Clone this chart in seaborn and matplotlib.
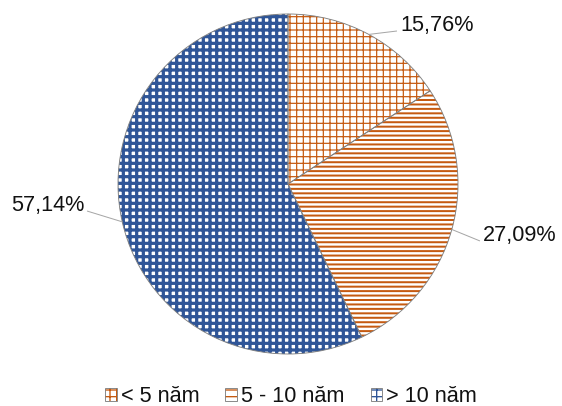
import numpy as np
import matplotlib
matplotlib.use("Agg")
import matplotlib.pyplot as plt
from matplotlib.patches import Patch
from matplotlib.legend_handler import HandlerTuple
import seaborn as sns

# Share of staff by years of service
categories = ["< 5 năm", "5 - 10 năm", "> 10 năm"]
shares = [15.76, 27.09, 57.14]
value_labels = ["15,76%", "27,09%", "57,14%"]

hatch_colors = ["#C55A11", "#C55A11", "#2F5597"]
hatches = ["++", "---", "++"]
hatch_widths = [1.1, 1.8, 2.9]

sns.set_theme(style="white")
plt.rcParams["font.family"] = ["Liberation Sans", "DejaVu Sans"]

DPI = 80
W, H = 562, 406
R_PX = 170.0
CX, CY = 288.0, 184.0

fig = plt.figure(figsize=(W / DPI, H / DPI), dpi=DPI)
ax = fig.add_axes([0, 0, 1, 1])


def set_view():
    ax.set_xlim(-CX / R_PX, (W - CX) / R_PX)
    ax.set_ylim(-(H - CY) / R_PX, CY / R_PX)
    ax.set_aspect("auto")
    ax.axis("off")


# hatched fills, one pie per hatch weight so each keeps its own line width
for i in range(len(shares)):
    plt.rcParams["hatch.linewidth"] = hatch_widths[i]
    wedges, _ = ax.pie(shares, startangle=90, counterclock=False,
                       radius=1.0, center=(0, 0), frame=True,
                       colors=["white"] * len(shares),
                       wedgeprops=dict(linewidth=0))
    for j, w in enumerate(wedges):
        if j == i:
            w.set_hatch(hatches[i])
            w.set_edgecolor(hatch_colors[i])
            w.set_linewidth(0)
        else:
            w.set_visible(False)

# grey outlines on top
outline, _ = ax.pie(shares, startangle=90, counterclock=False,
                    radius=1.0, center=(0, 0), frame=True,
                    wedgeprops=dict(fill=False, edgecolor="#7F7F7F", linewidth=0.8))
set_view()

# value labels with leader lines
label_anchor = [(0.641, 0.900), (1.129, -0.335), (-1.182, -0.159)]
label_side = ["left", "left", "right"]
gap = 3 / R_PX
for w, txt, (ex, ey), side in zip(outline, value_labels, label_anchor, label_side):
    mid = np.deg2rad((w.theta1 + w.theta2) / 2)
    sx, sy = np.cos(mid), np.sin(mid)
    ax.plot([sx, ex], [sy, ey], color="#A6A6A6", lw=0.9, solid_capstyle="butt")
    tx = ex + gap if side == "left" else ex - gap
    ax.text(tx, ey, txt, ha=side, va="baseline", fontsize=19.5, color="#111111")
set_view()

# legend: hatched square with a thin grey frame
handles = []
for i, name in enumerate(categories):
    plt.rcParams["hatch.linewidth"] = min(hatch_widths[i], 1.2)
    fill = Patch(facecolor="white", edgecolor=hatch_colors[i],
                 hatch=hatches[i][:2], linewidth=0)
    frame = Patch(facecolor="none", edgecolor="#7F7F7F", linewidth=0.8)
    handles.append((fill, frame))
leg = fig.legend(handles=handles, labels=categories, loc="center", ncol=3,
                 frameon=False, bbox_to_anchor=(291 / W, 1 - 397 / H),
                 fontsize=19.5, borderpad=0.0, borderaxespad=0.0,
                 handlelength=0.55, handleheight=0.55, handletextpad=0.18,
                 columnspacing=1.2,
                 handler_map={tuple: HandlerTuple(ndivide=1, pad=0)})
for t in leg.get_texts():
    t.set_color("#111111")

fig.savefig("out.png", dpi=DPI)
